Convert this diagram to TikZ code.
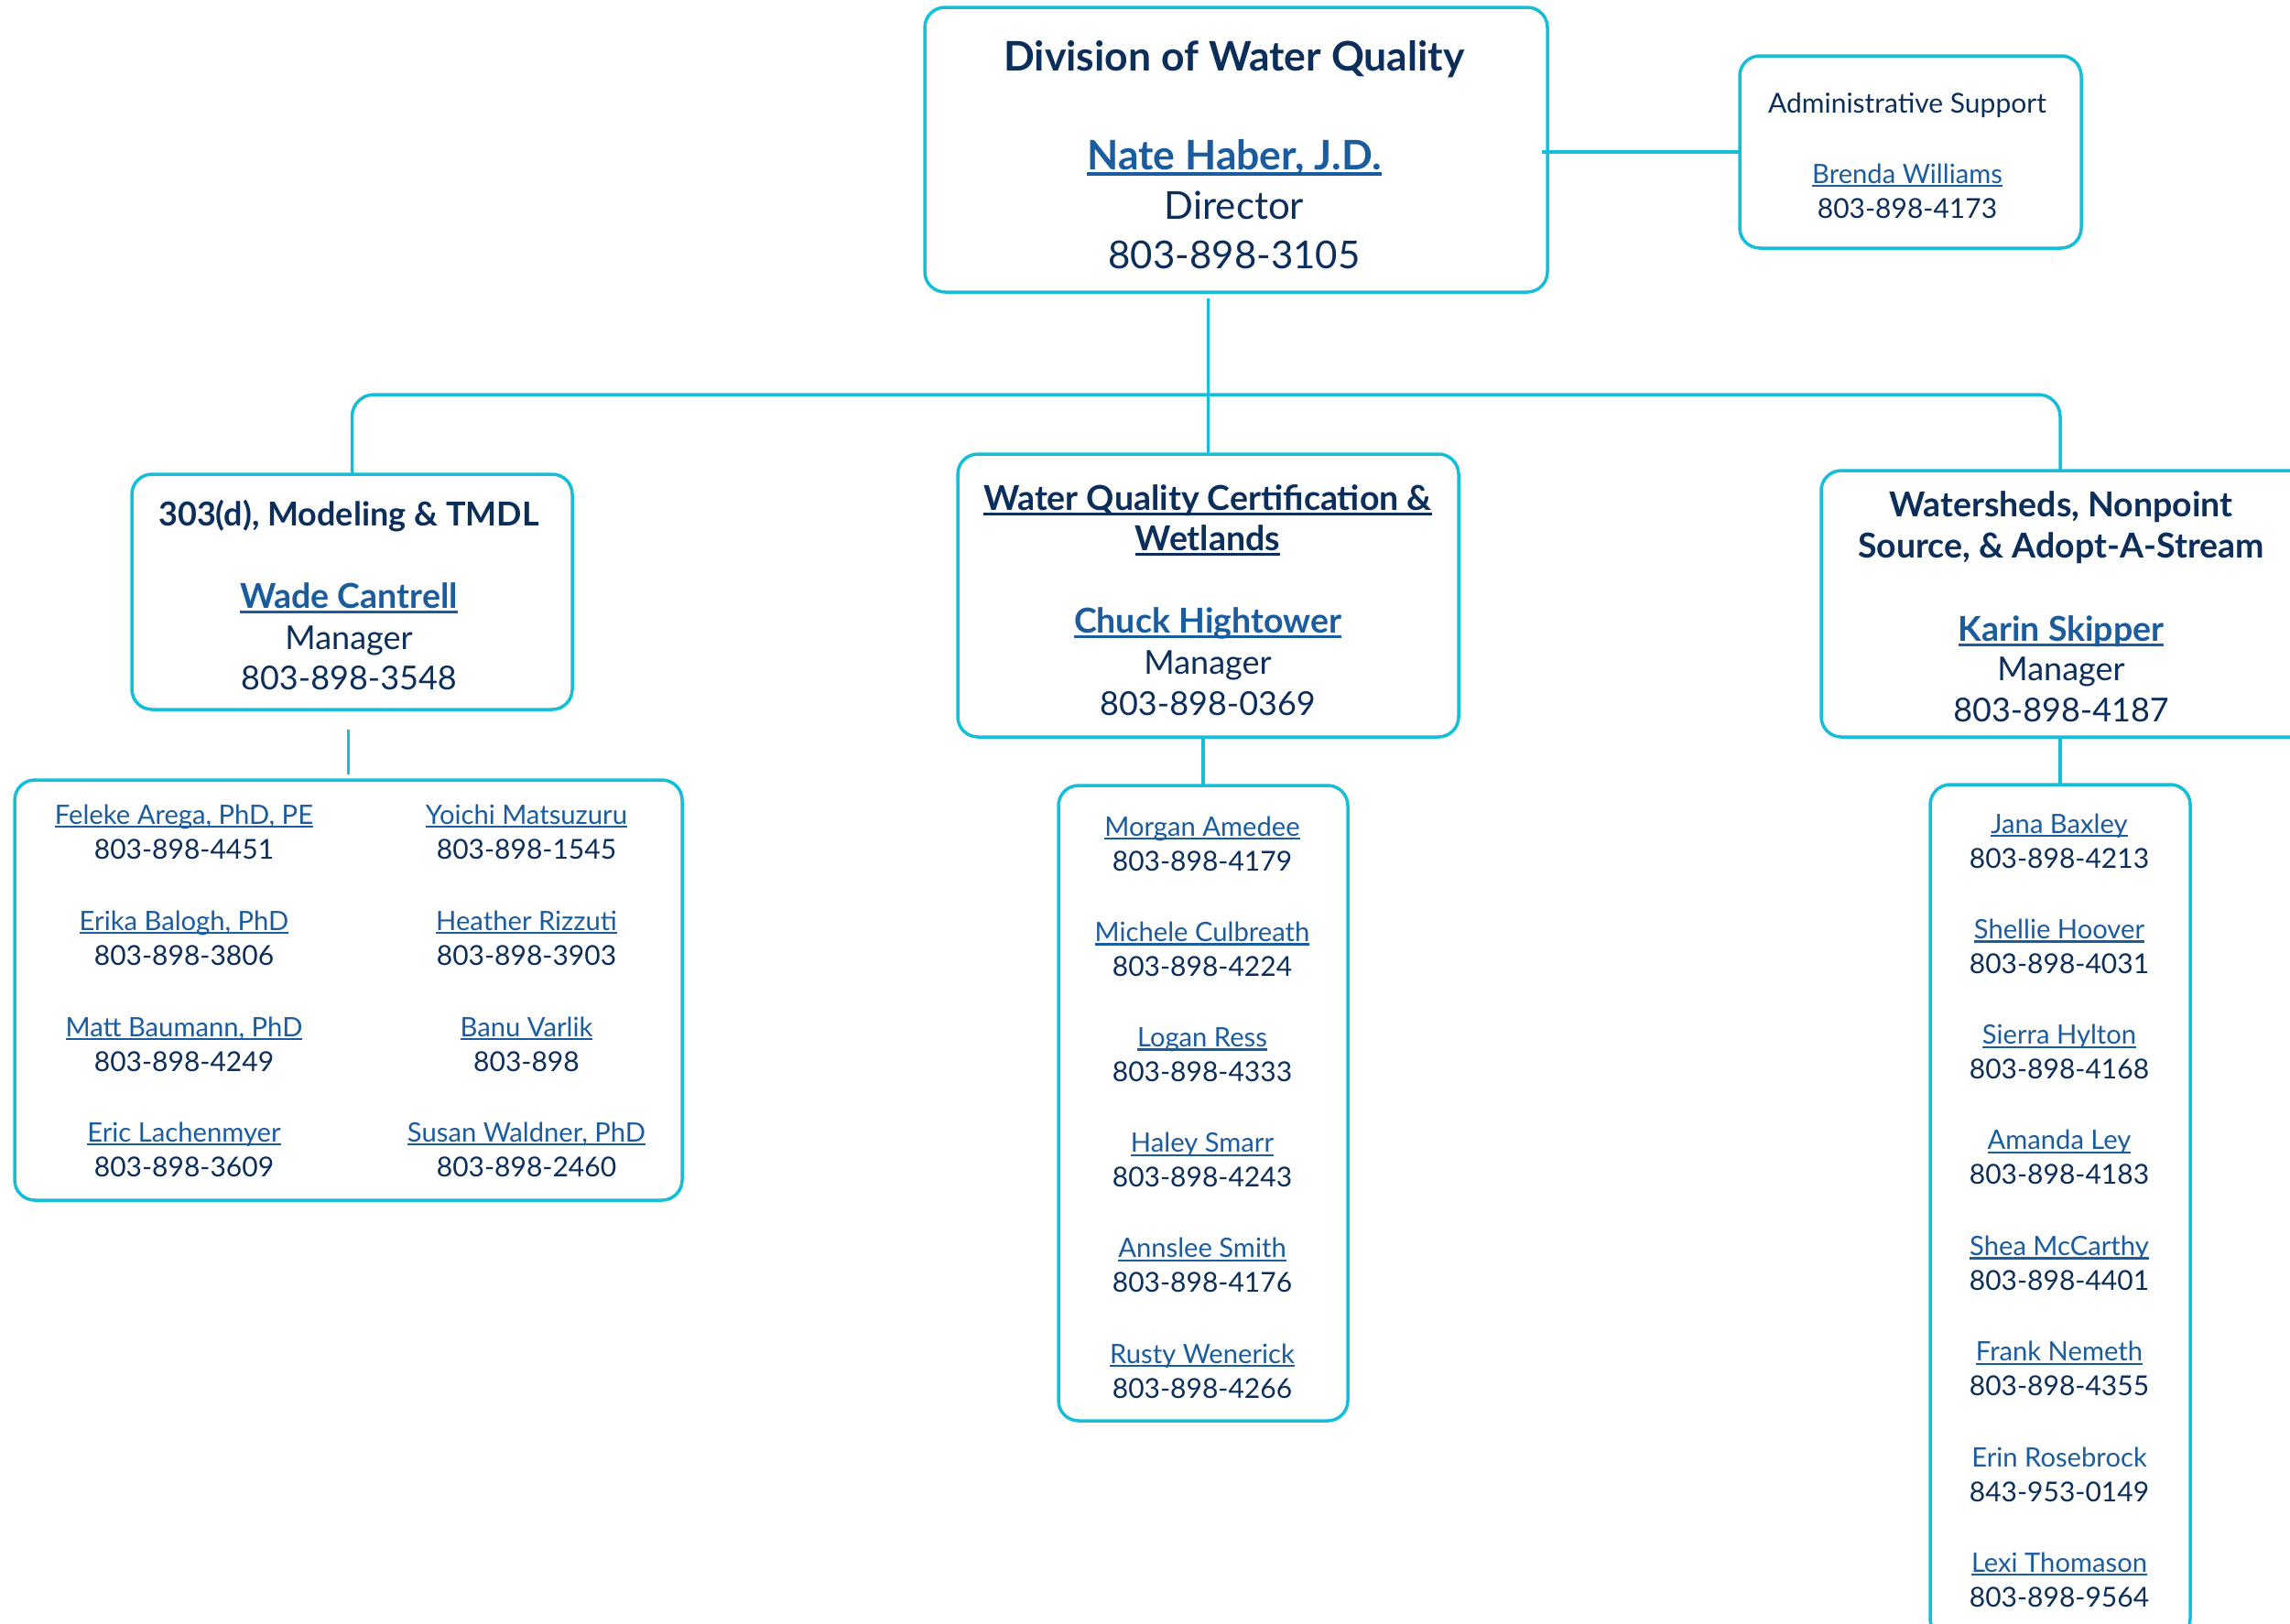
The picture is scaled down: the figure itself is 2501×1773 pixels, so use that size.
\documentclass[tikz,border=0pt]{standalone}
\usepackage{fontspec}
\setmainfont{Lato}
\definecolor{cy}{RGB}{20,190,215}
\definecolor{navy}{RGB}{12,46,90}
\definecolor{lnkb}{RGB}{26,92,158}
\newsavebox\ulbox
\newcommand\ulk[1]{\sbox\ulbox{#1}\rlap{\rule[-0.15em]{\wd\ulbox}{0.08em}}\usebox\ulbox}
\newcommand\fTop{\fontsize{42}{50}\selectfont}
\newcommand\fTopB{\fontsize{44.5}{52}\selectfont\bfseries}
\newcommand\fMgr{\fontsize{36}{43}\selectfont}
\newcommand\fMgrB{\fontsize{37.5}{45}\selectfont\bfseries}
\newcommand\fStf{\fontsize{30}{36}\selectfont}
\newcommand\fStfN{\fontsize{29.2}{35}\selectfont}
\tikzset{
  box/.style={draw=cy, line width=3.5pt, rounded corners=22pt, inner sep=0pt, outer sep=0pt},
  conn/.style={draw=cy, line width=3.5pt},
  txt/.style={anchor=base, inner sep=0pt, outer sep=0pt, text=navy},
  lnk/.style={txt, text=lnkb},
}
\begin{document}
\begin{tikzpicture}[x=1pt,y=-1pt]
\useasboundingbox (0,0) rectangle (2501,1773);
\clip (0,0) rectangle (2501,1773);
% boxes
\node[box, minimum width=680pt, minimum height=311pt] (top) at (1350,163.5) {};
\node[box, minimum width=373pt, minimum height=210pt] (admin) at (2086.5,166) {};
\node[box, minimum width=481pt, minimum height=257pt] (lmgr) at (384.5,646.5) {};
\node[box, minimum width=547pt, minimum height=309pt] (mmgr) at (1319.5,650.5) {};
\node[box, minimum width=571pt, minimum height=291pt] (rmgr) at (2274.5,659.5) {};
\node[box, minimum width=729pt, minimum height=459pt] (lstaff) at (380.5,1081.5) {};
\node[box, minimum width=316pt, minimum height=694pt] (mstaff) at (1314,1205) {};
\node[box, minimum width=284pt, minimum height=933pt] (rstaff) at (2250,1323.5) {};
% connectors
\draw[conn] ([xshift=-6pt]top.east |- admin.west) -- (admin.west);
\draw[conn] ([yshift=-7pt]top.south -| mmgr.north) -- (mmgr.north);
\draw[conn, rounded corners=24pt] (lmgr.north) -- ++(0,-87) -- ([yshift=83pt]rmgr.north -| rstaff.north) -- (rmgr.north -| rstaff.north);
\draw[conn] ([yshift=-22pt]lmgr.south -| lstaff.north) -- ([yshift=6pt]lstaff.north);
\draw[conn] (mmgr.south -| mstaff.north) -- (mstaff.north);
\draw[conn] (rmgr.south -| rstaff.north) -- (rstaff.north);
% top box text
\node[txt, font=\fTopB] (t1) at (1348,77) {Division of Water Quality};
\node[lnk, font=\fTopB] (t2) at (1348,185) {\ulk{Nate Haber, J.D.}};
\node[txt, font=\fTop] (t3) at (1348,239) {Director};
\node[txt, font=\fTop] (t4) at (1348,293) {803-898-3105};
% admin
\node[txt, font=\fStf] (a1) at (2083,123) {Administrative Support};
\node[lnk, font=\fStfN] (a2) at (2083,200) {\ulk{Brenda Williams}};
\node[txt, font=\fStf] (a3) at (2083,238) {803-898-4173};
% left manager
\node[txt, font=\fMgr\bfseries] (l1) at (381,574) {303(d), Modeling \& TMDL};
\node[lnk, font=\fMgrB] (l2) at (381,664) {\ulk{Wade Cantrell}};
\node[txt, font=\fMgr] (l3) at (381,709) {Manager};
\node[txt, font=\fMgr] (l4) at (381,753) {803-898-3548};
% middle manager
\node[txt, font=\fMgrB] (m1) at (1319,557) {\ulk{Water Quality Certification \&}};
\node[txt, font=\fMgrB] (m2) at (1319,601) {\ulk{Wetlands}};
\node[lnk, font=\fMgrB] (m3) at (1319,691) {\ulk{Chuck Hightower}};
\node[txt, font=\fMgr] (m4) at (1319,736) {Manager};
\node[txt, font=\fMgr] (m5) at (1319,781) {803-898-0369};
% right manager
\node[txt, font=\fMgrB] (r1) at (2251,564) {Watersheds, Nonpoint};
\node[txt, font=\fMgrB] (r2) at (2251,609) {Source, \& Adopt-A-Stream};
\node[lnk, font=\fMgrB] (r3) at (2251,700) {\ulk{Karin Skipper}};
\node[txt, font=\fMgr] (r4) at (2251,743) {Manager};
\node[txt, font=\fMgr] (r5) at (2251,788) {803-898-4187};
% left staff
\foreach \n/\p/\x/\y [count=\i] in {
  {Feleke Arega, PhD, PE}/803-898-4451/201/900,
  {Erika Balogh, PhD}/803-898-3806/201/1016,
  {Matt Baumann, PhD}/803-898-4249/201/1132,
  {Eric Lachenmyer}/803-898-3609/201/1247,
  {Yoichi Matsuzuru}/803-898-1545/575/900,
  {Heather Rizzuti}/803-898-3903/575/1016,
  {Banu Varlik}/803-898/575/1132,
  {Susan Waldner, PhD}/803-898-2460/575/1247}{
  \node[lnk, font=\fStfN] (ln\i) at (\x,\y) {\ulk{\n}};
  \node[txt, font=\fStf] (lp\i) at (\x,\y+38) {\p};
}
% middle staff
\foreach \n/\p [count=\i] in {
  {Morgan Amedee}/803-898-4179,
  {Michele Culbreath}/803-898-4224,
  {Logan Ress}/803-898-4333,
  {Haley Smarr}/803-898-4243,
  {Annslee Smith}/803-898-4176,
  {Rusty Wenerick}/803-898-4266}{
  \node[lnk, font=\fStfN] (mn\i) at (1313,913+115.2*\i-115.2) {\ulk{\n}};
  \node[txt, font=\fStf] (mp\i) at (1313,951+115.2*\i-115.2) {\p};
}
% right staff
\foreach \n/\p [count=\i] in {
  {Jana Baxley}/803-898-4213,
  {Shellie Hoover}/803-898-4031,
  {Sierra Hylton}/803-898-4168,
  {Amanda Ley}/803-898-4183,
  {Shea McCarthy}/803-898-4401,
  {Frank Nemeth}/803-898-4355}{
  \node[lnk, font=\fStfN] (rn\i) at (2249,910+115.3*\i-115.3) {\ulk{\n}};
  \node[txt, font=\fStf] (rp\i) at (2249,948+115.3*\i-115.3) {\p};
}
\node[lnk, font=\fStfN] (rn7) at (2249,1602) {Erin Rosebrock};
\node[txt, font=\fStf] (rp7) at (2249,1640) {843-953-0149};
\node[lnk, font=\fStfN] (rn8) at (2249,1717) {\ulk{Lexi Thomason}};
\node[txt, font=\fStf] (rp8) at (2249,1755) {803-898-9564};
\end{tikzpicture}
\end{document}
